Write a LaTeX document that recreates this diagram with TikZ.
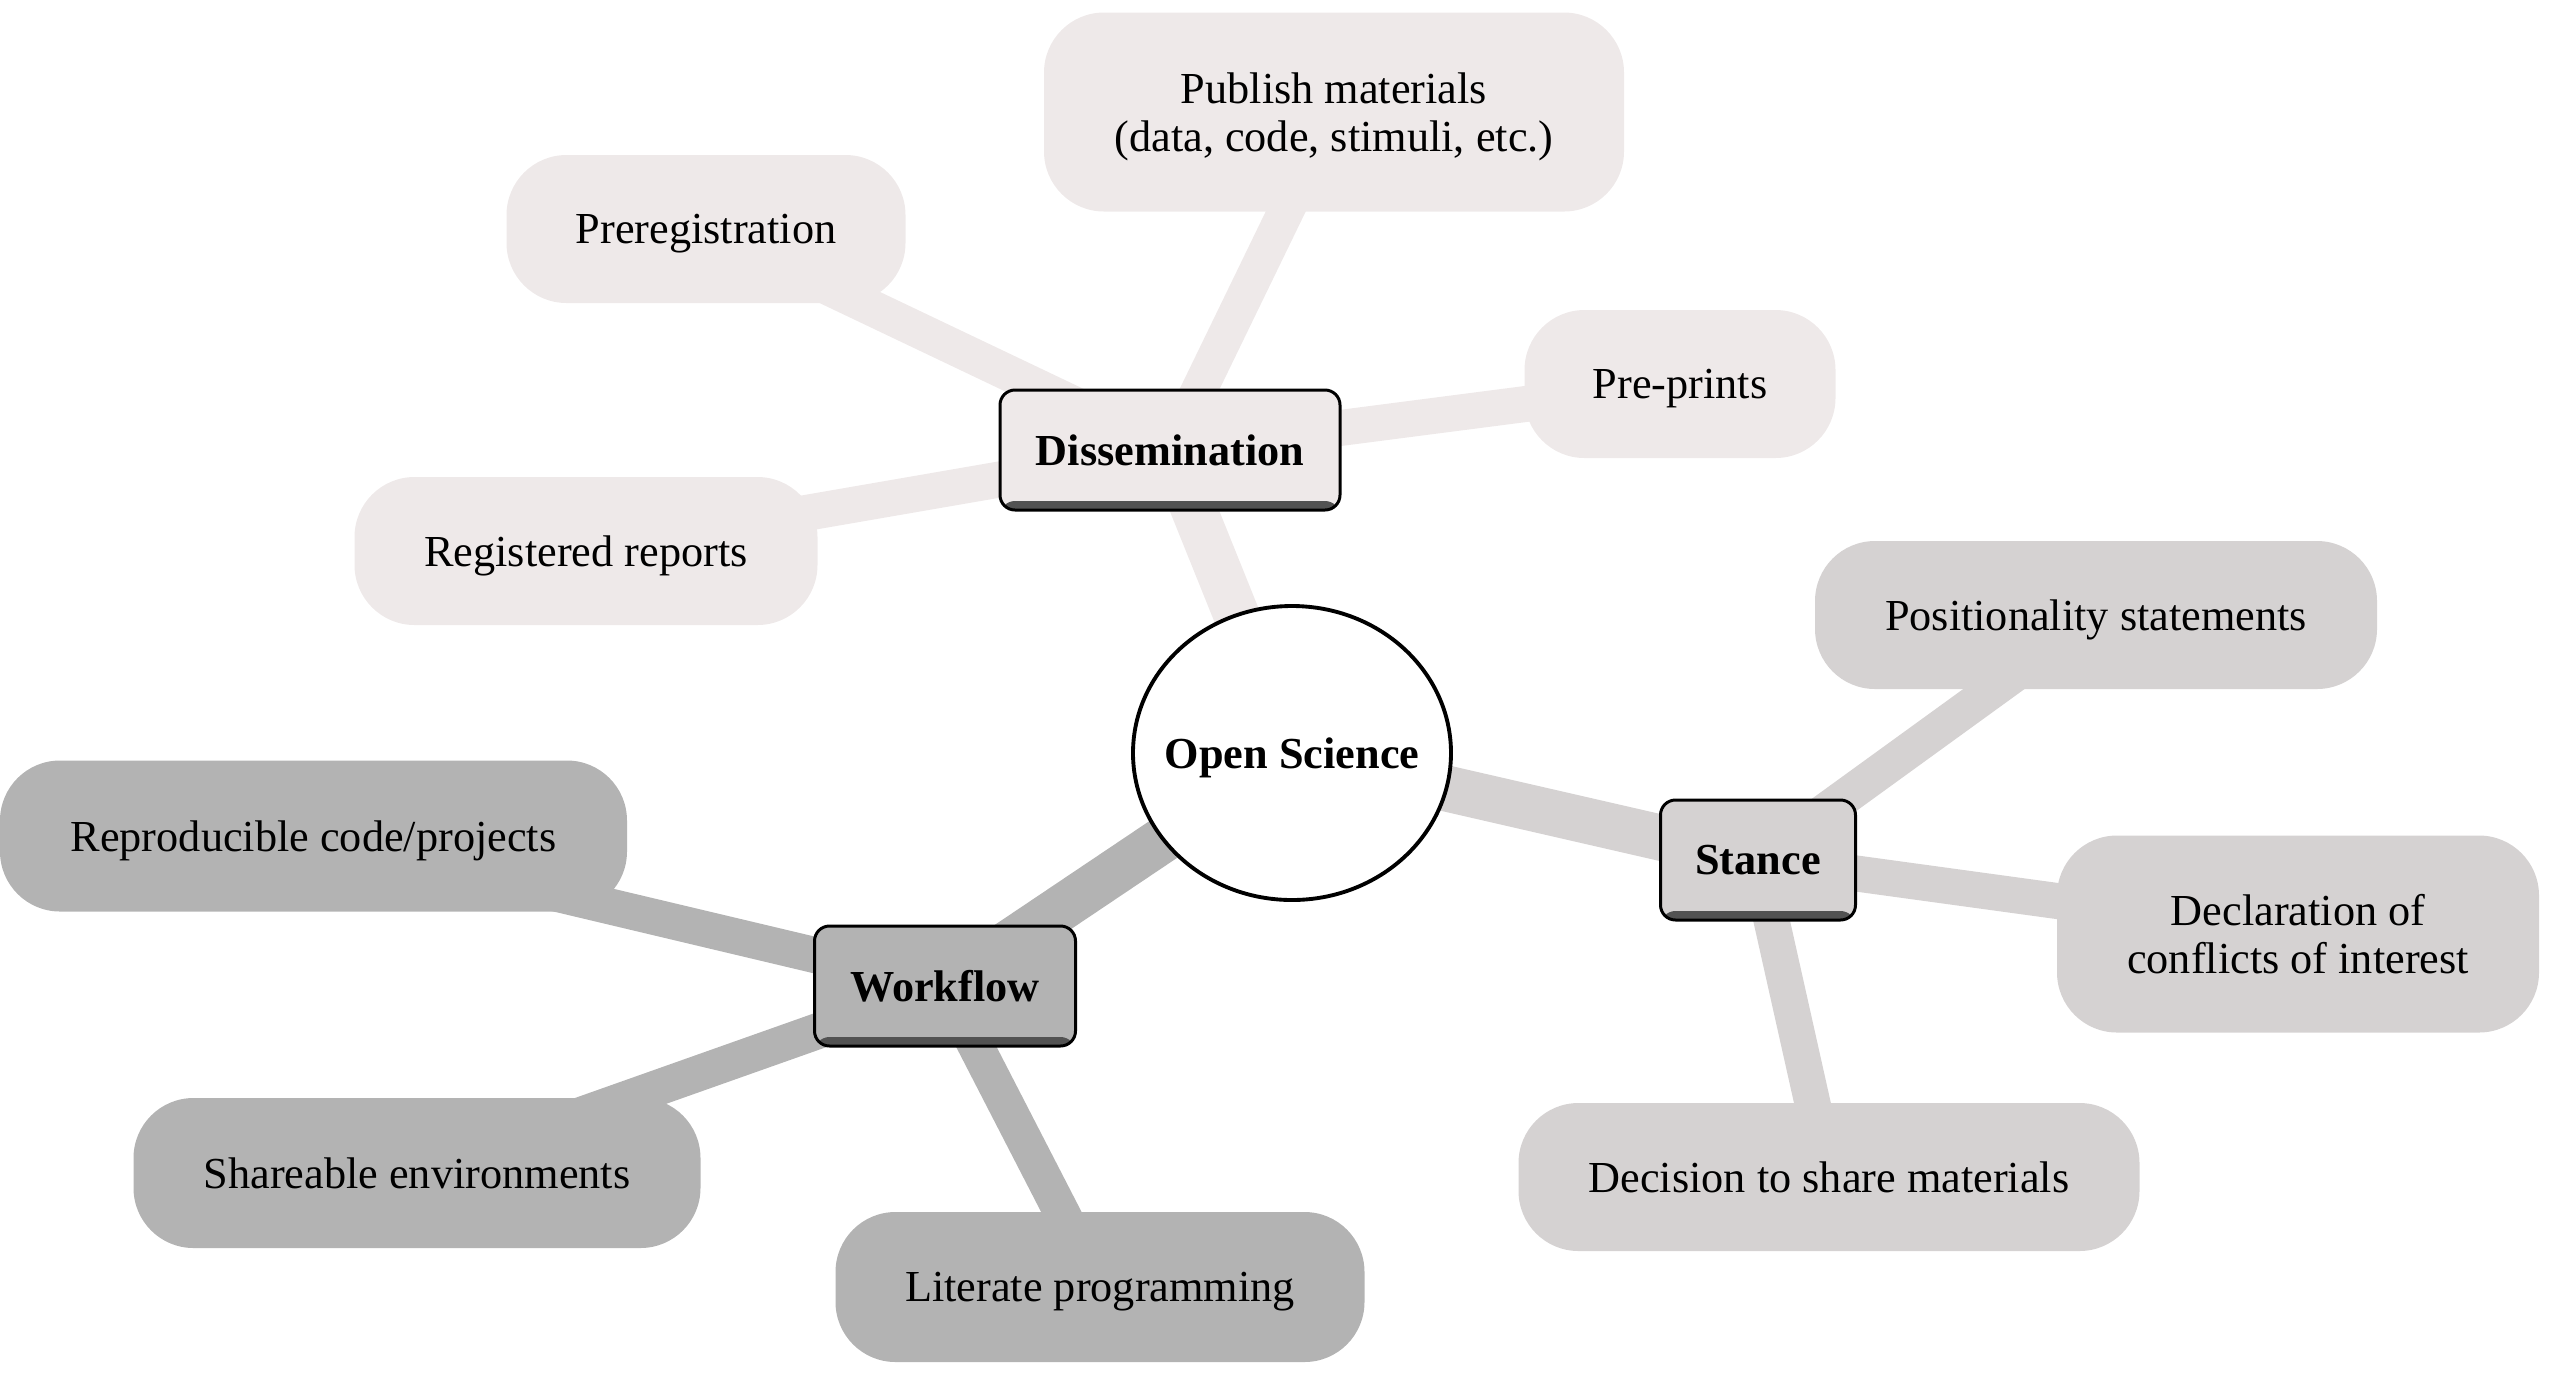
\documentclass[tikz,border=0pt]{standalone}
\usepackage{fontspec}
\setmainfont{Liberation Serif}
\usepackage{tikz}
\usetikzlibrary{backgrounds, shapes.geometric}

\definecolor{disfill}{HTML}{EEE9E9}
\definecolor{stafill}{HTML}{D5D2D2}
\definecolor{worfill}{HTML}{B3B3B3}

\begin{document}
\begin{tikzpicture}[
    txt/.style={font=\fontsize{12.6}{13.8}\selectfont, align=center, inner sep=0pt},
    leafbox/.style={txt, rectangle, rounded corners=0.6cm, minimum height=1.48cm, text depth=0pt},
    hubbox/.style={txt, rectangle, draw, line width=0.85pt, rounded corners=1.5mm,
        minimum height=1.2cm, font=\fontsize{12.6}{13.8}\selectfont\bfseries,
        path picture={\fill[black!68] ([yshift=0.09cm]path picture bounding box.south west) rectangle (path picture bounding box.south east);}},
    disleaf/.style={leafbox, fill=disfill},
    staleaf/.style={leafbox, fill=stafill},
    worleaf/.style={leafbox, fill=worfill},
    hublink/.style={line width=0.46cm},
    leaflink/.style={line width=0.36cm}]
    \useasboundingbox (0,0) rectangle (25.54,-13.76);
    % Centre
    \node[txt, ellipse, draw, line width=1.1pt, fill=white, inner xsep=-0.2cm, inner ysep=0pt,
        minimum width=3.18cm, minimum height=2.94cm, text depth=0pt,
        font=\fontsize{12.6}{13.8}\selectfont\bfseries] (os) at (12.92,-7.53) {Open Science};
    % Hubs
    \node[hubbox, fill=disfill, minimum width=3.40cm] (dis) at (11.70,-4.50) {Dissemination};
    \node[hubbox, fill=stafill, minimum width=1.95cm] (sta) at (17.58,-8.60) {Stance};
    \node[hubbox, fill=worfill, minimum width=2.61cm] (wor) at (9.45,-9.86) {Workflow};
    % Dissemination leaves
    \node[disleaf, minimum width=5.80cm, minimum height=1.99cm] (pub) at (13.34,-1.12) {Publish materials\\(data, code, stimuli, etc.)};
    \node[disleaf, minimum width=3.99cm] (pre) at (7.06,-2.29) {Preregistration};
    \node[disleaf, minimum width=3.11cm] (prp) at (16.80,-3.84) {Pre-prints};
    \node[disleaf, minimum width=4.63cm] (reg) at (5.86,-5.51) {Registered reports};
    % Stance leaves
    \node[staleaf, minimum width=5.62cm] (pos) at (20.96,-6.15) {Positionality statements};
    \node[staleaf, minimum width=4.82cm, minimum height=1.97cm] (dec) at (22.98,-9.34) {Declaration of\\conflicts of interest};
    \node[staleaf, minimum width=6.21cm] (shr) at (18.29,-11.77) {Decision to share materials};
    % Workflow leaves
    \node[worleaf, minimum width=6.27cm, minimum height=1.51cm] (rep) at (3.135,-8.36) {Reproducible code/projects};
    \node[worleaf, minimum width=5.67cm, minimum height=1.50cm] (env) at (4.17,-11.73) {Shareable environments};
    \node[worleaf, minimum width=5.29cm, minimum height=1.50cm] (lit) at (11.00,-12.87) {Literate programming};
    % Links
    \begin{scope}[on background layer]
        \draw[hublink, disfill] (os.center) -- (dis.center);
        \draw[hublink, stafill] (os.center) -- (sta.center);
        \draw[hublink, worfill] (os.center) -- (wor.center);
        \foreach \leaf in {pub, pre, prp, reg}
            \draw[leaflink, disfill] (dis.center) -- (\leaf.center);
        \foreach \leaf in {pos, dec, shr}
            \draw[leaflink, stafill] (sta.center) -- (\leaf.center);
        \foreach \leaf in {rep, env, lit}
            \draw[leaflink, worfill] (wor.center) -- (\leaf.center);
    \end{scope}
\end{tikzpicture}
\end{document}
